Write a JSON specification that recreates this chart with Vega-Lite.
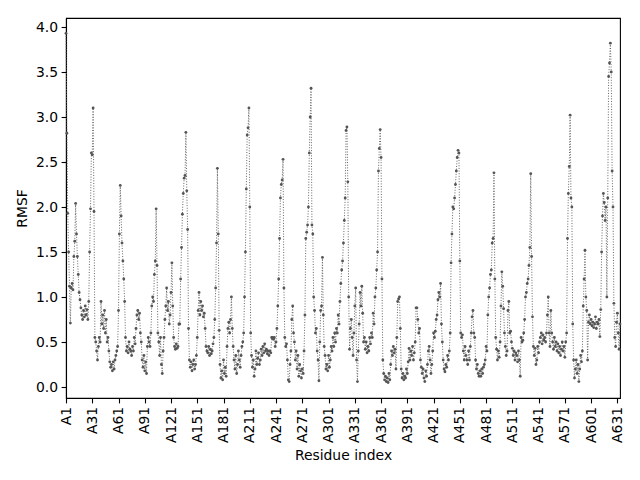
{
  "$schema": "https://vega.github.io/schema/vega-lite/v6.json",
  "width": 554,
  "height": 380,
  "autosize": "none",
  "padding": {"left": 66, "top": 18, "right": 20, "bottom": 82},
  "background": "white",
  "config": {
    "font": "DejaVu Sans",
    "view": {"stroke": "#000000", "strokeWidth": 1.1},
    "axis": {
      "grid": false,
      "domainColor": "#000000",
      "domainWidth": 1.1,
      "tickColor": "#000000",
      "tickWidth": 1.1,
      "tickSize": 4.9,
      "labelPadding": 3.5,
      "labelFont": "DejaVu Sans",
      "labelFontSize": 13.9,
      "labelColor": "#000000",
      "titleFont": "DejaVu Sans",
      "titleFontSize": 13.9,
      "titleFontWeight": "normal",
      "titleColor": "#000000"
    }
  },
  "data": {"values": [
    {"residue":1,"rmsf":3.93},{"residue":2,"rmsf":2.82},{"residue":3,"rmsf":1.93},{"residue":4,"rmsf":1.50},{"residue":5,"rmsf":1.12},
    {"residue":6,"rmsf":0.71},{"residue":7,"rmsf":1.10},{"residue":8,"rmsf":1.15},{"residue":9,"rmsf":1.08},{"residue":10,"rmsf":1.45},
    {"residue":11,"rmsf":1.62},{"residue":12,"rmsf":2.04},{"residue":13,"rmsf":1.70},{"residue":14,"rmsf":1.45},{"residue":15,"rmsf":1.25},
    {"residue":16,"rmsf":1.05},{"residue":17,"rmsf":0.97},{"residue":18,"rmsf":0.88},{"residue":19,"rmsf":0.80},{"residue":20,"rmsf":0.75},
    {"residue":21,"rmsf":0.85},{"residue":22,"rmsf":0.78},{"residue":23,"rmsf":0.90},{"residue":24,"rmsf":0.80},{"residue":25,"rmsf":0.86},
    {"residue":26,"rmsf":0.75},{"residue":27,"rmsf":0.95},{"residue":28,"rmsf":1.50},{"residue":29,"rmsf":1.98},{"residue":30,"rmsf":2.60},
    {"residue":31,"rmsf":2.58},{"residue":32,"rmsf":3.10},{"residue":33,"rmsf":1.95},{"residue":34,"rmsf":0.55},{"residue":35,"rmsf":0.50},
    {"residue":36,"rmsf":0.40},{"residue":37,"rmsf":0.30},{"residue":38,"rmsf":0.45},{"residue":39,"rmsf":0.55},{"residue":40,"rmsf":0.50},
    {"residue":41,"rmsf":0.95},{"residue":42,"rmsf":0.70},{"residue":43,"rmsf":0.80},{"residue":44,"rmsf":0.65},{"residue":45,"rmsf":0.85},
    {"residue":46,"rmsf":0.60},{"residue":47,"rmsf":0.75},{"residue":48,"rmsf":0.50},{"residue":49,"rmsf":0.55},{"residue":50,"rmsf":0.40},
    {"residue":51,"rmsf":0.28},{"residue":52,"rmsf":0.22},{"residue":53,"rmsf":0.25},{"residue":54,"rmsf":0.18},{"residue":55,"rmsf":0.28},
    {"residue":56,"rmsf":0.20},{"residue":57,"rmsf":0.30},{"residue":58,"rmsf":0.35},{"residue":59,"rmsf":0.40},{"residue":60,"rmsf":0.45},
    {"residue":61,"rmsf":0.85},{"residue":62,"rmsf":1.70},{"residue":63,"rmsf":2.24},{"residue":64,"rmsf":1.90},{"residue":65,"rmsf":1.60},
    {"residue":66,"rmsf":1.40},{"residue":67,"rmsf":1.20},{"residue":68,"rmsf":0.95},{"residue":69,"rmsf":0.55},{"residue":70,"rmsf":0.40},
    {"residue":71,"rmsf":0.45},{"residue":72,"rmsf":0.38},{"residue":73,"rmsf":0.50},{"residue":74,"rmsf":0.42},{"residue":75,"rmsf":0.40},
    {"residue":76,"rmsf":0.35},{"residue":77,"rmsf":0.45},{"residue":78,"rmsf":0.40},{"residue":79,"rmsf":0.55},{"residue":80,"rmsf":0.48},
    {"residue":81,"rmsf":0.65},{"residue":82,"rmsf":0.80},{"residue":83,"rmsf":0.85},{"residue":84,"rmsf":0.75},{"residue":85,"rmsf":0.82},
    {"residue":86,"rmsf":0.60},{"residue":87,"rmsf":0.50},{"residue":88,"rmsf":0.30},{"residue":89,"rmsf":0.22},{"residue":90,"rmsf":0.35},
    {"residue":91,"rmsf":0.18},{"residue":92,"rmsf":0.28},{"residue":93,"rmsf":0.15},{"residue":94,"rmsf":0.45},{"residue":95,"rmsf":0.55},
    {"residue":96,"rmsf":0.50},{"residue":97,"rmsf":0.45},{"residue":98,"rmsf":0.60},{"residue":99,"rmsf":0.90},{"residue":100,"rmsf":1.00},
    {"residue":101,"rmsf":0.95},{"residue":102,"rmsf":1.25},{"residue":103,"rmsf":1.40},{"residue":104,"rmsf":1.98},{"residue":105,"rmsf":1.35},
    {"residue":106,"rmsf":0.60},{"residue":107,"rmsf":0.50},{"residue":108,"rmsf":0.35},{"residue":109,"rmsf":0.55},{"residue":110,"rmsf":0.25},
    {"residue":111,"rmsf":0.15},{"residue":112,"rmsf":0.40},{"residue":113,"rmsf":0.55},{"residue":114,"rmsf":0.75},{"residue":115,"rmsf":0.90},
    {"residue":116,"rmsf":1.10},{"residue":117,"rmsf":0.85},{"residue":118,"rmsf":0.95},{"residue":119,"rmsf":0.70},{"residue":120,"rmsf":0.80},
    {"residue":121,"rmsf":1.05},{"residue":122,"rmsf":1.38},{"residue":123,"rmsf":0.90},{"residue":124,"rmsf":0.55},{"residue":125,"rmsf":0.45},
    {"residue":126,"rmsf":0.42},{"residue":127,"rmsf":0.48},{"residue":128,"rmsf":0.43},{"residue":129,"rmsf":0.45},{"residue":130,"rmsf":0.70},
    {"residue":131,"rmsf":0.70},{"residue":132,"rmsf":1.20},{"residue":133,"rmsf":1.55},{"residue":134,"rmsf":1.92},{"residue":135,"rmsf":2.15},
    {"residue":136,"rmsf":2.32},{"residue":137,"rmsf":2.35},{"residue":138,"rmsf":2.83},{"residue":139,"rmsf":2.18},{"residue":140,"rmsf":1.75},
    {"residue":141,"rmsf":0.65},{"residue":142,"rmsf":0.30},{"residue":143,"rmsf":0.22},{"residue":144,"rmsf":0.28},{"residue":145,"rmsf":0.18},
    {"residue":146,"rmsf":0.25},{"residue":147,"rmsf":0.30},{"residue":148,"rmsf":0.20},{"residue":149,"rmsf":0.25},{"residue":150,"rmsf":0.35},
    {"residue":151,"rmsf":0.55},{"residue":152,"rmsf":0.85},{"residue":153,"rmsf":1.05},{"residue":154,"rmsf":0.80},{"residue":155,"rmsf":0.95},
    {"residue":156,"rmsf":0.85},{"residue":157,"rmsf":0.90},{"residue":158,"rmsf":0.78},{"residue":159,"rmsf":0.82},{"residue":160,"rmsf":0.65},
    {"residue":161,"rmsf":0.45},{"residue":162,"rmsf":0.40},{"residue":163,"rmsf":0.38},{"residue":164,"rmsf":0.45},{"residue":165,"rmsf":0.35},
    {"residue":166,"rmsf":0.42},{"residue":167,"rmsf":0.37},{"residue":168,"rmsf":0.40},{"residue":169,"rmsf":0.48},{"residue":170,"rmsf":0.55},
    {"residue":171,"rmsf":0.75},{"residue":172,"rmsf":1.10},{"residue":173,"rmsf":1.60},{"residue":174,"rmsf":2.43},{"residue":175,"rmsf":1.70},
    {"residue":176,"rmsf":0.63},{"residue":177,"rmsf":0.25},{"residue":178,"rmsf":0.10},{"residue":179,"rmsf":0.18},{"residue":180,"rmsf":0.08},
    {"residue":181,"rmsf":0.30},{"residue":182,"rmsf":0.15},{"residue":183,"rmsf":0.22},{"residue":184,"rmsf":0.12},{"residue":185,"rmsf":0.45},
    {"residue":186,"rmsf":0.65},{"residue":187,"rmsf":0.72},{"residue":188,"rmsf":0.60},{"residue":189,"rmsf":0.75},{"residue":190,"rmsf":1.00},
    {"residue":191,"rmsf":0.65},{"residue":192,"rmsf":0.45},{"residue":193,"rmsf":0.30},{"residue":194,"rmsf":0.20},{"residue":195,"rmsf":0.35},
    {"residue":196,"rmsf":0.15},{"residue":197,"rmsf":0.25},{"residue":198,"rmsf":0.40},{"residue":199,"rmsf":0.30},{"residue":200,"rmsf":0.22},
    {"residue":201,"rmsf":0.35},{"residue":202,"rmsf":0.45},{"residue":203,"rmsf":0.50},{"residue":204,"rmsf":0.60},{"residue":205,"rmsf":1.00},
    {"residue":206,"rmsf":1.50},{"residue":207,"rmsf":2.20},{"residue":208,"rmsf":2.80},{"residue":209,"rmsf":2.88},{"residue":210,"rmsf":3.10},
    {"residue":211,"rmsf":2.00},{"residue":212,"rmsf":0.60},{"residue":213,"rmsf":0.35},{"residue":214,"rmsf":0.22},{"residue":215,"rmsf":0.30},
    {"residue":216,"rmsf":0.12},{"residue":217,"rmsf":0.20},{"residue":218,"rmsf":0.40},{"residue":219,"rmsf":0.25},{"residue":220,"rmsf":0.32},
    {"residue":221,"rmsf":0.38},{"residue":222,"rmsf":0.25},{"residue":223,"rmsf":0.30},{"residue":224,"rmsf":0.42},{"residue":225,"rmsf":0.35},
    {"residue":226,"rmsf":0.45},{"residue":227,"rmsf":0.38},{"residue":228,"rmsf":0.48},{"residue":229,"rmsf":0.40},{"residue":230,"rmsf":0.42},
    {"residue":231,"rmsf":0.37},{"residue":232,"rmsf":0.40},{"residue":233,"rmsf":0.35},{"residue":234,"rmsf":0.40},{"residue":235,"rmsf":0.38},
    {"residue":236,"rmsf":0.55},{"residue":237,"rmsf":0.55},{"residue":238,"rmsf":0.53},{"residue":239,"rmsf":0.55},{"residue":240,"rmsf":0.45},
    {"residue":241,"rmsf":0.50},{"residue":242,"rmsf":0.65},{"residue":243,"rmsf":0.90},{"residue":244,"rmsf":1.20},{"residue":245,"rmsf":1.65},
    {"residue":246,"rmsf":2.10},{"residue":247,"rmsf":2.25},{"residue":248,"rmsf":2.30},{"residue":249,"rmsf":2.53},{"residue":250,"rmsf":1.10},
    {"residue":251,"rmsf":0.55},{"residue":252,"rmsf":0.45},{"residue":253,"rmsf":0.48},{"residue":254,"rmsf":0.30},{"residue":255,"rmsf":0.08},
    {"residue":256,"rmsf":0.06},{"residue":257,"rmsf":0.25},{"residue":258,"rmsf":0.40},{"residue":259,"rmsf":0.75},{"residue":260,"rmsf":0.90},
    {"residue":261,"rmsf":0.60},{"residue":262,"rmsf":0.50},{"residue":263,"rmsf":0.30},{"residue":264,"rmsf":0.40},{"residue":265,"rmsf":0.20},
    {"residue":266,"rmsf":0.35},{"residue":267,"rmsf":0.12},{"residue":268,"rmsf":0.25},{"residue":269,"rmsf":0.18},{"residue":270,"rmsf":0.10},
    {"residue":271,"rmsf":0.20},{"residue":272,"rmsf":0.15},{"residue":273,"rmsf":0.40},{"residue":274,"rmsf":0.80},{"residue":275,"rmsf":1.65},
    {"residue":276,"rmsf":1.72},{"residue":277,"rmsf":1.80},{"residue":278,"rmsf":2.00},{"residue":279,"rmsf":2.60},{"residue":280,"rmsf":3.00},
    {"residue":281,"rmsf":3.32},{"residue":282,"rmsf":1.80},{"residue":283,"rmsf":1.70},{"residue":284,"rmsf":1.00},{"residue":285,"rmsf":0.85},
    {"residue":286,"rmsf":0.60},{"residue":287,"rmsf":0.65},{"residue":288,"rmsf":0.40},{"residue":289,"rmsf":0.30},{"residue":290,"rmsf":0.07},
    {"residue":291,"rmsf":0.50},{"residue":292,"rmsf":0.85},{"residue":293,"rmsf":0.90},{"residue":294,"rmsf":1.44},{"residue":295,"rmsf":0.80},
    {"residue":296,"rmsf":0.45},{"residue":297,"rmsf":0.35},{"residue":298,"rmsf":0.20},{"residue":299,"rmsf":0.25},{"residue":300,"rmsf":0.18},
    {"residue":301,"rmsf":0.35},{"residue":302,"rmsf":0.22},{"residue":303,"rmsf":0.30},{"residue":304,"rmsf":0.45},{"residue":305,"rmsf":0.40},
    {"residue":306,"rmsf":0.55},{"residue":307,"rmsf":0.45},{"residue":308,"rmsf":0.60},{"residue":309,"rmsf":0.50},{"residue":310,"rmsf":0.65},
    {"residue":311,"rmsf":0.60},{"residue":312,"rmsf":0.80},{"residue":313,"rmsf":0.70},{"residue":314,"rmsf":0.95},{"residue":315,"rmsf":1.15},
    {"residue":316,"rmsf":1.30},{"residue":317,"rmsf":1.40},{"residue":318,"rmsf":1.60},{"residue":319,"rmsf":1.85},{"residue":320,"rmsf":2.10},
    {"residue":321,"rmsf":2.85},{"residue":322,"rmsf":2.89},{"residue":323,"rmsf":2.28},{"residue":324,"rmsf":1.00},{"residue":325,"rmsf":0.42},
    {"residue":326,"rmsf":0.65},{"residue":327,"rmsf":0.75},{"residue":328,"rmsf":0.55},{"residue":329,"rmsf":0.35},{"residue":330,"rmsf":0.60},
    {"residue":331,"rmsf":0.90},{"residue":332,"rmsf":1.10},{"residue":333,"rmsf":0.30},{"residue":334,"rmsf":0.06},{"residue":335,"rmsf":0.40},
    {"residue":336,"rmsf":0.70},{"residue":337,"rmsf":1.05},{"residue":338,"rmsf":0.90},{"residue":339,"rmsf":1.12},{"residue":340,"rmsf":0.82},
    {"residue":341,"rmsf":0.50},{"residue":342,"rmsf":0.55},{"residue":343,"rmsf":0.42},{"residue":344,"rmsf":0.50},{"residue":345,"rmsf":0.38},
    {"residue":346,"rmsf":0.45},{"residue":347,"rmsf":0.40},{"residue":348,"rmsf":0.55},{"residue":349,"rmsf":0.48},{"residue":350,"rmsf":0.60},
    {"residue":351,"rmsf":0.55},{"residue":352,"rmsf":0.82},{"residue":353,"rmsf":0.70},{"residue":354,"rmsf":1.00},{"residue":355,"rmsf":1.10},
    {"residue":356,"rmsf":1.30},{"residue":357,"rmsf":1.50},{"residue":358,"rmsf":2.40},{"residue":359,"rmsf":2.65},{"residue":360,"rmsf":2.86},
    {"residue":361,"rmsf":2.55},{"residue":362,"rmsf":1.20},{"residue":363,"rmsf":0.30},{"residue":364,"rmsf":0.15},{"residue":365,"rmsf":0.08},
    {"residue":366,"rmsf":0.12},{"residue":367,"rmsf":0.06},{"residue":368,"rmsf":0.10},{"residue":369,"rmsf":0.05},{"residue":370,"rmsf":0.15},
    {"residue":371,"rmsf":0.08},{"residue":372,"rmsf":0.25},{"residue":373,"rmsf":0.40},{"residue":374,"rmsf":0.35},{"residue":375,"rmsf":0.45},
    {"residue":376,"rmsf":0.38},{"residue":377,"rmsf":0.42},{"residue":378,"rmsf":0.20},{"residue":379,"rmsf":0.55},{"residue":380,"rmsf":0.95},
    {"residue":381,"rmsf":0.98},{"residue":382,"rmsf":1.00},{"residue":383,"rmsf":0.65},{"residue":384,"rmsf":0.20},{"residue":385,"rmsf":0.10},
    {"residue":386,"rmsf":0.15},{"residue":387,"rmsf":0.08},{"residue":388,"rmsf":0.12},{"residue":389,"rmsf":0.10},{"residue":390,"rmsf":0.20},
    {"residue":391,"rmsf":0.15},{"residue":392,"rmsf":0.28},{"residue":393,"rmsf":0.43},{"residue":394,"rmsf":0.30},{"residue":395,"rmsf":0.40},
    {"residue":396,"rmsf":0.35},{"residue":397,"rmsf":0.45},{"residue":398,"rmsf":0.30},{"residue":399,"rmsf":0.38},{"residue":400,"rmsf":0.50},
    {"residue":401,"rmsf":0.88},{"residue":402,"rmsf":0.88},{"residue":403,"rmsf":0.75},{"residue":404,"rmsf":0.60},{"residue":405,"rmsf":0.65},
    {"residue":406,"rmsf":0.30},{"residue":407,"rmsf":0.22},{"residue":408,"rmsf":0.15},{"residue":409,"rmsf":0.20},{"residue":410,"rmsf":0.10},
    {"residue":411,"rmsf":0.06},{"residue":412,"rmsf":0.18},{"residue":413,"rmsf":0.12},{"residue":414,"rmsf":0.25},{"residue":415,"rmsf":0.40},
    {"residue":416,"rmsf":0.45},{"residue":417,"rmsf":0.30},{"residue":418,"rmsf":0.15},{"residue":419,"rmsf":0.25},{"residue":420,"rmsf":0.40},
    {"residue":421,"rmsf":0.60},{"residue":422,"rmsf":0.55},{"residue":423,"rmsf":0.62},{"residue":424,"rmsf":0.75},{"residue":425,"rmsf":0.80},
    {"residue":426,"rmsf":0.97},{"residue":427,"rmsf":1.05},{"residue":428,"rmsf":1.00},{"residue":429,"rmsf":1.15},{"residue":430,"rmsf":0.70},
    {"residue":431,"rmsf":0.50},{"residue":432,"rmsf":0.30},{"residue":433,"rmsf":0.20},{"residue":434,"rmsf":0.17},{"residue":435,"rmsf":0.25},
    {"residue":436,"rmsf":0.22},{"residue":437,"rmsf":0.35},{"residue":438,"rmsf":0.30},{"residue":439,"rmsf":0.40},{"residue":440,"rmsf":0.60},
    {"residue":441,"rmsf":1.38},{"residue":442,"rmsf":1.70},{"residue":443,"rmsf":2.00},{"residue":444,"rmsf":1.98},{"residue":445,"rmsf":2.10},
    {"residue":446,"rmsf":2.25},{"residue":447,"rmsf":2.40},{"residue":448,"rmsf":2.55},{"residue":449,"rmsf":2.63},{"residue":450,"rmsf":2.60},
    {"residue":451,"rmsf":1.40},{"residue":452,"rmsf":0.60},{"residue":453,"rmsf":0.55},{"residue":454,"rmsf":0.58},{"residue":455,"rmsf":0.40},
    {"residue":456,"rmsf":0.30},{"residue":457,"rmsf":0.45},{"residue":458,"rmsf":0.35},{"residue":459,"rmsf":0.30},{"residue":460,"rmsf":0.25},
    {"residue":461,"rmsf":0.40},{"residue":462,"rmsf":0.30},{"residue":463,"rmsf":0.45},{"residue":464,"rmsf":0.60},{"residue":465,"rmsf":0.78},
    {"residue":466,"rmsf":0.85},{"residue":467,"rmsf":0.60},{"residue":468,"rmsf":0.55},{"residue":469,"rmsf":0.30},{"residue":470,"rmsf":0.20},
    {"residue":471,"rmsf":0.25},{"residue":472,"rmsf":0.15},{"residue":473,"rmsf":0.12},{"residue":474,"rmsf":0.18},{"residue":475,"rmsf":0.12},
    {"residue":476,"rmsf":0.20},{"residue":477,"rmsf":0.15},{"residue":478,"rmsf":0.22},{"residue":479,"rmsf":0.25},{"residue":480,"rmsf":0.30},
    {"residue":481,"rmsf":0.45},{"residue":482,"rmsf":0.40},{"residue":483,"rmsf":0.80},{"residue":484,"rmsf":1.00},{"residue":485,"rmsf":1.10},
    {"residue":486,"rmsf":1.25},{"residue":487,"rmsf":1.30},{"residue":488,"rmsf":1.60},{"residue":489,"rmsf":1.65},{"residue":490,"rmsf":2.38},
    {"residue":491,"rmsf":1.20},{"residue":492,"rmsf":0.55},{"residue":493,"rmsf":0.42},{"residue":494,"rmsf":0.30},{"residue":495,"rmsf":0.40},
    {"residue":496,"rmsf":0.33},{"residue":497,"rmsf":0.50},{"residue":498,"rmsf":0.90},{"residue":499,"rmsf":1.28},{"residue":500,"rmsf":1.12},
    {"residue":501,"rmsf":0.87},{"residue":502,"rmsf":0.60},{"residue":503,"rmsf":0.45},{"residue":504,"rmsf":0.35},{"residue":505,"rmsf":0.40},
    {"residue":506,"rmsf":0.85},{"residue":507,"rmsf":0.95},{"residue":508,"rmsf":0.60},{"residue":509,"rmsf":0.62},{"residue":510,"rmsf":0.50},
    {"residue":511,"rmsf":0.43},{"residue":512,"rmsf":0.35},{"residue":513,"rmsf":0.40},{"residue":514,"rmsf":0.30},{"residue":515,"rmsf":0.38},
    {"residue":516,"rmsf":0.35},{"residue":517,"rmsf":0.28},{"residue":518,"rmsf":0.40},{"residue":519,"rmsf":0.30},{"residue":520,"rmsf":0.12},
    {"residue":521,"rmsf":0.55},{"residue":522,"rmsf":0.50},{"residue":523,"rmsf":0.52},{"residue":524,"rmsf":0.60},{"residue":525,"rmsf":0.75},
    {"residue":526,"rmsf":1.00},{"residue":527,"rmsf":1.05},{"residue":528,"rmsf":1.15},{"residue":529,"rmsf":1.20},{"residue":530,"rmsf":1.35},
    {"residue":531,"rmsf":1.55},{"residue":532,"rmsf":2.37},{"residue":533,"rmsf":1.45},{"residue":534,"rmsf":0.78},{"residue":535,"rmsf":0.45},
    {"residue":536,"rmsf":0.35},{"residue":537,"rmsf":0.43},{"residue":538,"rmsf":0.25},{"residue":539,"rmsf":0.30},{"residue":540,"rmsf":0.45},
    {"residue":541,"rmsf":0.38},{"residue":542,"rmsf":0.50},{"residue":543,"rmsf":0.55},{"residue":544,"rmsf":0.60},{"residue":545,"rmsf":0.48},
    {"residue":546,"rmsf":0.58},{"residue":547,"rmsf":0.52},{"residue":548,"rmsf":0.55},{"residue":549,"rmsf":0.50},{"residue":550,"rmsf":0.60},
    {"residue":551,"rmsf":0.80},{"residue":552,"rmsf":1.00},{"residue":553,"rmsf":0.60},{"residue":554,"rmsf":0.45},{"residue":555,"rmsf":0.85},
    {"residue":556,"rmsf":0.60},{"residue":557,"rmsf":0.50},{"residue":558,"rmsf":0.42},{"residue":559,"rmsf":0.55},{"residue":560,"rmsf":0.45},
    {"residue":561,"rmsf":0.50},{"residue":562,"rmsf":0.40},{"residue":563,"rmsf":0.48},{"residue":564,"rmsf":0.38},{"residue":565,"rmsf":0.45},
    {"residue":566,"rmsf":0.35},{"residue":567,"rmsf":0.42},{"residue":568,"rmsf":0.50},{"residue":569,"rmsf":0.40},{"residue":570,"rmsf":0.45},
    {"residue":571,"rmsf":0.33},{"residue":572,"rmsf":0.50},{"residue":573,"rmsf":0.60},{"residue":574,"rmsf":1.65},{"residue":575,"rmsf":2.15},
    {"residue":576,"rmsf":2.45},{"residue":577,"rmsf":3.02},{"residue":578,"rmsf":2.10},{"residue":579,"rmsf":2.00},{"residue":580,"rmsf":0.70},
    {"residue":581,"rmsf":0.30},{"residue":582,"rmsf":0.10},{"residue":583,"rmsf":0.20},{"residue":584,"rmsf":0.30},{"residue":585,"rmsf":0.15},
    {"residue":586,"rmsf":0.25},{"residue":587,"rmsf":0.06},{"residue":588,"rmsf":0.20},{"residue":589,"rmsf":0.35},{"residue":590,"rmsf":0.28},
    {"residue":591,"rmsf":0.40},{"residue":592,"rmsf":0.90},{"residue":593,"rmsf":1.20},{"residue":594,"rmsf":1.52},{"residue":595,"rmsf":1.00},
    {"residue":596,"rmsf":0.85},{"residue":597,"rmsf":0.30},{"residue":598,"rmsf":0.72},{"residue":599,"rmsf":0.80},{"residue":600,"rmsf":0.70},
    {"residue":601,"rmsf":0.75},{"residue":602,"rmsf":0.68},{"residue":603,"rmsf":0.72},{"residue":604,"rmsf":0.66},{"residue":605,"rmsf":0.70},
    {"residue":606,"rmsf":0.78},{"residue":607,"rmsf":0.65},{"residue":608,"rmsf":0.72},{"residue":609,"rmsf":0.70},{"residue":610,"rmsf":0.75},
    {"residue":611,"rmsf":0.56},{"residue":612,"rmsf":0.86},{"residue":613,"rmsf":1.50},{"residue":614,"rmsf":1.90},{"residue":615,"rmsf":2.15},
    {"residue":616,"rmsf":2.05},{"residue":617,"rmsf":1.85},{"residue":618,"rmsf":2.00},{"residue":619,"rmsf":1.00},{"residue":620,"rmsf":2.10},
    {"residue":621,"rmsf":3.45},{"residue":622,"rmsf":3.60},{"residue":623,"rmsf":3.82},{"residue":624,"rmsf":3.50},{"residue":625,"rmsf":2.40},
    {"residue":626,"rmsf":2.00},{"residue":627,"rmsf":0.93},{"residue":628,"rmsf":0.55},{"residue":629,"rmsf":0.45},{"residue":630,"rmsf":0.72},
    {"residue":631,"rmsf":0.82},{"residue":632,"rmsf":0.60},{"residue":633,"rmsf":0.42},{"residue":634,"rmsf":0.70}
  ]},
  "encoding": {
    "x": {
      "field": "residue",
      "type": "quantitative",
      "title": "Residue index",
      "scale": {"domain": [1, 634], "nice": false, "zero": false},
      "axis": {
        "values": [1, 31, 61, 91, 121, 151, 181, 211, 241, 271, 301, 331, 361, 391, 421, 451, 481, 511, 541, 571, 601, 631],
        "labelExpr": "'A' + datum.value",
        "labelAngle": 270,
        "labelAlign": "right",
        "labelBaseline": "middle",
        "labelOverlap": false,
        "labelFlush": false,
        "titlePadding": 6
      }
    },
    "y": {
      "field": "rmsf",
      "type": "quantitative",
      "title": "RMSF",
      "scale": {"domain": [-0.122, 4.1], "nice": false, "zero": false},
      "axis": {
        "values": [0, 0.5, 1, 1.5, 2, 2.5, 3, 3.5, 4],
        "format": ".1f",
        "titlePadding": 6
      }
    }
  },
  "layer": [
    {"mark": {"type": "line", "color": "#666666", "strokeWidth": 1, "strokeDash": [1, 1.65]}},
    {"mark": {"type": "point", "filled": true, "color": "#555555", "size": 8, "opacity": 1}}
  ]
}
